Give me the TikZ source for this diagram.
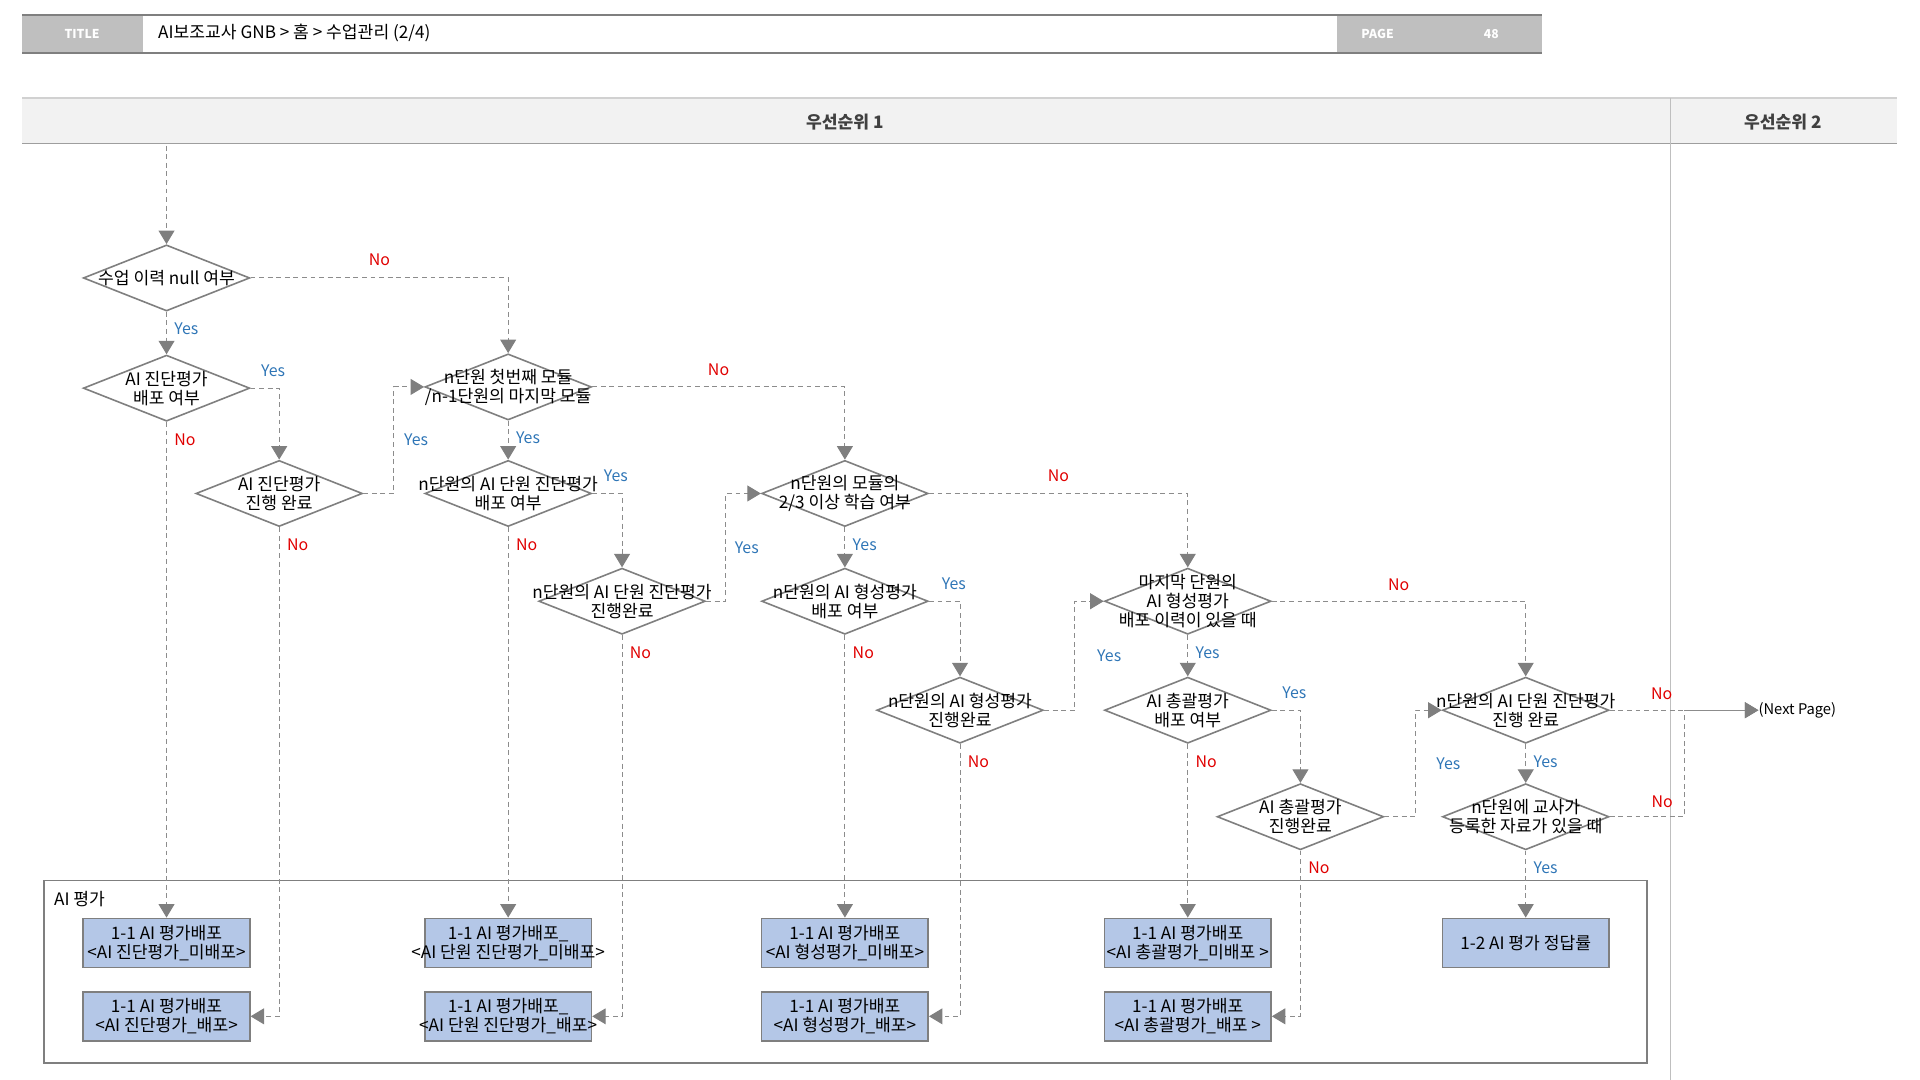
\documentclass[tikz,border=0pt]{standalone}
\usepackage{fontspec}
\setmainfont{Noto Sans CJK KR}
\usepackage{xcolor}
\usepackage{tikz}
\usetikzlibrary{arrows.meta,shapes.geometric,positioning,calc}

\definecolor{linegray}{HTML}{7F7F7F}
\definecolor{dashgray}{HTML}{8C8C8C}
\definecolor{cellgray}{HTML}{BFBFBF}
\definecolor{bandgray}{HTML}{F2F2F2}
\definecolor{boxblue}{HTML}{B4C7E7}
\definecolor{yesblue}{HTML}{2E75B6}
\definecolor{nored}{HTML}{E00000}

\begin{document}
\begin{tikzpicture}[
  x=1pt, y=-1pt,
  txt/.style={font=\fontsize{14}{15.5}\selectfont, align=center, inner sep=0},
  lbl/.style={font=\fontsize{13}{15}\selectfont, inner sep=0},
  hdr/.style={font=\fontsize{10}{11}\selectfont\bfseries, text=white},
  dec/.style={diamond, draw=linegray, line width=1.3pt, fill=white, minimum width=136, minimum height=54, inner sep=0},
  res/.style={draw=linegray, line width=1.3pt, fill=boxblue, minimum width=136, minimum height=40, inner sep=0},
  flow/.style={dashgray, line width=0.8pt, dash pattern=on 4pt off 3pt, -{Triangle[length=11pt, width=13pt, color=linegray]}},
  yes/.style={lbl, text=yesblue},
  no/.style={lbl, text=nored},
  sb/.style={pos=0, anchor=north west, xshift=6pt, yshift=-9pt},
  cor/.style={pos=0.5, above=9pt, xshift=-5pt}
]
  \useasboundingbox (0,0) rectangle (1568,882);

  % header
  \fill[cellgray] (18,12) rectangle (117,43);
  \fill[cellgray] (1092,12) rectangle (1259,43);
  \draw[linegray, line width=1.8pt] (18,12) -- (1259,12);
  \draw[linegray, line width=1.8pt] (18,43) -- (1259,43);
  \node[hdr] (ttl) at (67,27.5) {TITLE};
  \node[txt, anchor=west] (ttltext) at (129,27) {AI보조교사 GNB > 홈 > 수업관리 (2/4)};
  \node[hdr] (pglbl) at (1125,27.5) {PAGE};
  \node[hdr] (pgnum) at (1218,27.5) {48};

  \fill[bandgray] (18,80) rectangle (1549,117);
  \draw[black!18, line width=1.2pt] (18,80) -- (1549,80);
  \draw[black!38, line width=1.2pt] (18,117) -- (1549,117);
  \draw[black!25, line width=1pt] (1364,80) -- (1364,882);
  \node[txt, font=\fontsize{14}{15}\selectfont\bfseries, text=black!75] (prio1) at (690,100) {우선순위 1};
  \node[txt, font=\fontsize{14}{15}\selectfont\bfseries, text=black!75] (prio2) at (1456,100) {우선순위 2};

  % AI 평가
  \node[draw=linegray, line width=1.3pt, minimum width=1309, minimum height=149, inner sep=0] (aieval) at (690.5,793.5) {};
  \node[txt, anchor=west] (evallbl) at (44,734) {AI 평가};

  \node[res, label={[txt]center:1-1 AI 평가배포\\<AI 진단평가\_미배포>}] (bdiagno) at (136,770) {};
  \node[res, label={[txt]center:1-1 AI 평가배포\\<AI 진단평가\_배포>}] (bdiagyes) at (136,830) {};
  \node[res, label={[txt]center:1-1 AI 평가배포\_\\<AI 단원 진단평가\_미배포>}] (budiagno) at (415,770) {};
  \node[res, label={[txt]center:1-1 AI 평가배포\_\\<AI 단원 진단평가\_배포>}] (budiagyes) at (415,830) {};
  \node[res, label={[txt]center:1-1 AI 평가배포\\<AI 형성평가\_미배포>}] (bformno) at (690,770) {};
  \node[res, label={[txt]center:1-1 AI 평가배포\\<AI 형성평가\_배포>}] (bformyes) at (690,830) {};
  \node[res, label={[txt]center:1-1 AI 평가배포\\<AI 총괄평가\_미배포 >}] (bsumno) at (970,770) {};
  \node[res, label={[txt]center:1-1 AI 평가배포\\<AI 총괄평가\_배포 >}] (bsumyes) at (970,830) {};
  \node[res, label={[txt]center:1-2 AI 평가 정답률}] (brate) at (1246,770) {};

  % decisions
  \coordinate (start) at (136,119);
  \node[dec, label={[txt]center:수업 이력 null 여부}] (nullq) at (136,227) {};
  \node[dec, label={[txt]center:AI 진단평가\\배포 여부}] (diagdist) at (136,317) {};
  \node[dec, label={[txt]center:AI 진단평가\\진행 완료}] (diagdone) at (228,403) {};
  \node[dec, label={[txt]center:n단원 첫번째 모듈\\/n-1단원의 마지막 모듈}] (firstmod) at (415,316) {};
  \node[dec, label={[txt]center:n단원의 AI 단원 진단평가\\배포 여부}] (udiagdist) at (415,403) {};
  \node[dec, label={[txt]center:n단원의 AI 단원 진단평가\\진행완료}] (udiagdone) at (508,491) {};
  \node[dec, label={[txt]center:n단원의 모듈의\\2/3 이상 학습 여부}] (twothird) at (690,403) {};
  \node[dec, label={[txt]center:n단원의 AI 형성평가\\배포 여부}] (formdist) at (690,491) {};
  \node[dec, label={[txt]center:n단원의 AI 형성평가\\진행완료}] (formdone) at (784,580) {};
  \node[dec, label={[txt]center:마지막 단원의\\AI 형성평가\\배포 이력이 있을 때}] (lastform) at (970,491) {};
  \node[dec, label={[txt]center:AI 총괄평가\\배포 여부}] (sumdist) at (970,580) {};
  \node[dec, label={[txt]center:AI 총괄평가\\진행완료}] (sumdone) at (1062,667) {};
  \node[dec, label={[txt]center:n단원의 AI 단원 진단평가\\진행 완료}] (udiagfin) at (1246,580) {};
  \node[dec, label={[txt]center:n단원에 교사가\\등록한 자료가 있을 때}] (tchmat) at (1246,667) {};
  \node[lbl, font=\fontsize{12}{13}\selectfont, anchor=west] (nextpg) at (1436,580) {(Next Page)};

  \draw[flow] (start) -- (nullq.north);
  \draw[flow] (nullq.east) -| node[no, pos=0.25, above=10pt] {No} (firstmod.north);
  \draw[flow] (nullq.south) -- node[yes, sb] {Yes} (diagdist.north);
  \draw[flow] (diagdist.east) -| node[yes, cor] {Yes} (diagdone.north);
  \draw[flow] (diagdist.south) -- node[no, sb] {No} (bdiagno.north);
  \draw[flow] (diagdone.east) -- ++(25,0) |- node[yes, pos=0.25, right=8pt] {Yes} (firstmod.west);
  \draw[flow] (diagdone.south) |- node[no, sb] {No} (bdiagyes.east);
  \draw[flow] (firstmod.east) -| node[no, pos=0.25, above=9pt] {No} (twothird.north);
  \draw[flow] (firstmod.south) -- node[yes, sb] {Yes} (udiagdist.north);
  \draw[flow] (udiagdist.east) -| node[yes, cor] {Yes} (udiagdone.north);
  \draw[flow] (udiagdist.south) -- node[no, sb] {No} (budiagno.north);
  \draw[flow] (udiagdone.east) -- ++(16,0) |- node[yes, pos=0.25, right=7pt] {Yes} (twothird.west);
  \draw[flow] (udiagdone.south) |- node[no, sb] {No} (budiagyes.east);
  \draw[flow] (twothird.east) -| node[no, pos=0.25, above=9pt] {No} (lastform.north);
  \draw[flow] (twothird.south) -- node[yes, sb] {Yes} (formdist.north);
  \draw[flow] (formdist.east) -| node[yes, cor] {Yes} (formdone.north);
  \draw[flow] (formdist.south) -- node[no, sb] {No} (bformno.north);
  \draw[flow] (formdone.east) -- ++(25,0) |- node[yes, pos=0.25, right=18pt] {Yes} (lastform.west);
  \draw[flow] (formdone.south) |- node[no, sb] {No} (bformyes.east);
  \draw[flow] (lastform.east) -| node[no, pos=0.25, above=8pt] {No} (udiagfin.north);
  \draw[flow] (lastform.south) -- node[yes, sb] {Yes} (sumdist.north);
  \draw[flow] (sumdist.east) -| node[yes, cor] {Yes} (sumdone.north);
  \draw[flow] (sumdist.south) -- node[no, sb] {No} (bsumno.north);
  \draw[flow] (sumdone.east) -- ++(25,0) |- node[yes, pos=0.25, right=17pt] {Yes} (udiagfin.west);
  \draw[flow] (sumdone.south) |- node[no, sb] {No} (bsumyes.east);
  \draw[flow] (udiagfin.east) -- node[no, pos=0.35, above=8pt] {No} (nextpg.west);
  \draw[flow] (udiagfin.south) -- node[yes, sb] {Yes} (tchmat.north);
  \draw[flow] (tchmat.east) -- node[no, pos=0.7, above=7pt] {No} ++(61,0) |- (nextpg.west);
  \draw[flow] (tchmat.south) -- node[yes, sb] {Yes} (brate.north);
\end{tikzpicture}
\end{document}
